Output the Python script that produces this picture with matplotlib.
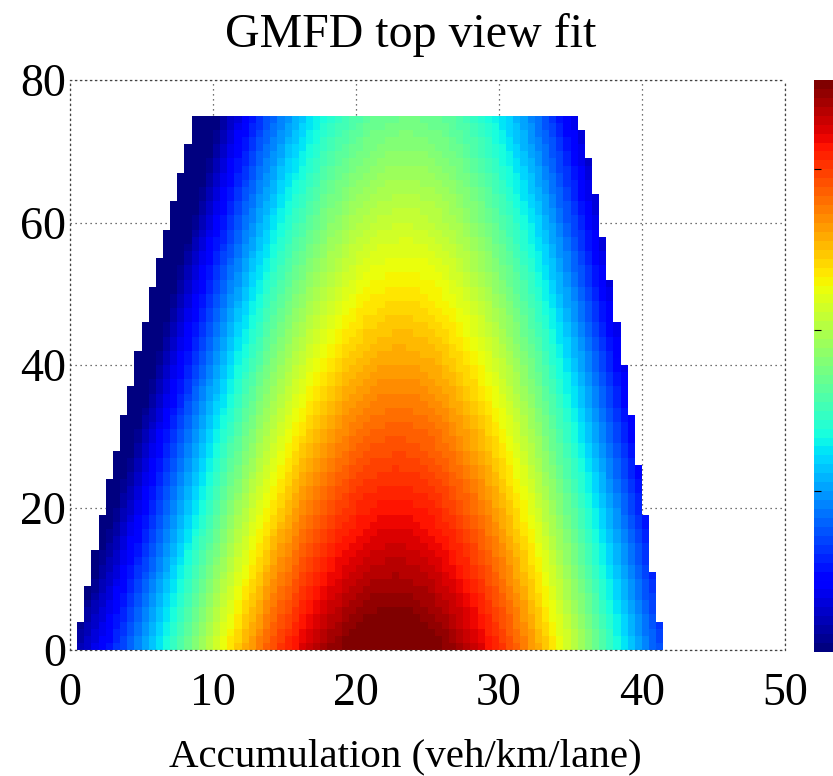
import numpy as np
import matplotlib
matplotlib.use('Agg')
import matplotlib.pyplot as plt

# fitted surface:
# q = A(y) - c2*d^2 + c4*d^4, d = x - x0(y), relative to q_scale (veh/h/lane)
q_scale = 1775.0
peak_at_0 = 1.03      # relative height of the ridge at y=0
peak_slope = 0.0073   # drop of the ridge per unit y
c2 = 0.00314          # curvature across x
c4 = 2.27e-6          # flattening towards the edges
x0_at_0 = 22.5        # ridge position at y=0
x0_slope = 0.014      # ridge drift per unit y

# stepped edges of the fitted region (top y of each step, edge x)
left_y_top = [4, 9, 14, 19, 24, 28, 33, 37, 42, 46, 51, 55, 59, 63, 67, 71, 75]
left_x = [0.5, 1.0, 1.5, 2.0, 2.5, 3.0, 3.5, 4.0, 4.5, 5.0, 5.5, 6.0, 6.5, 7.0, 7.5, 8.0, 8.5]
right_y_top = [4, 11, 19, 26, 33, 40, 46, 52, 58, 64, 69, 73, 75]
right_x = [41.5, 41.0, 40.5, 40.0, 39.5, 39.0, 38.5, 38.0, 37.5, 37.0, 36.5, 36.0, 35.5]

cbar_ticks = [500, 1000, 1500]

xe = np.arange(0, 42.01, 0.5)
ye = np.arange(0, 75.01, 1.0)
xc = (xe[:-1] + xe[1:]) / 2
yc = (ye[:-1] + ye[1:]) / 2
X, Y = np.meshgrid(xc, yc)

A = peak_at_0 - peak_slope * Y
D = X - (x0_at_0 + x0_slope * Y)
Q = (A - c2 * D ** 2 + c4 * D ** 4) * q_scale

xl = np.array(left_x)[np.searchsorted(left_y_top, yc)]
xr = np.array(right_x)[np.searchsorted(right_y_top, yc)]
XL, _ = np.meshgrid(xe[:-1], yc)
XR, _ = np.meshgrid(xe[1:], yc)
mask = (XL < xl[:, None] - 1e-9) | (XR > xr[:, None] + 1e-9)
Q = np.ma.masked_array(Q, mask)

plt.rcParams['font.family'] = ['Liberation Serif', 'DejaVu Serif']

fig = plt.figure(figsize=(8.33, 7.76), dpi=100)
ax = fig.add_axes([70/833, 126/776, 715/833, 570/776])
cmap = plt.get_cmap('jet', 64)
pc = ax.pcolormesh(xe, ye, Q, cmap=cmap, vmin=0, vmax=q_scale, zorder=1)

ax.set_xlim(0, 50)
ax.set_ylim(0, 80)
ax.set_xticks([0, 10, 20, 30, 40, 50])
ax.set_yticks([0, 20, 40, 60, 80])
ax.set_axisbelow(True)
ax.grid(True, linestyle=(0, (1, 3)), color='#444444', linewidth=0.9)
for s in ax.spines.values():
    s.set_linestyle((0, (1, 3)))
    s.set_color('#444444')
    s.set_linewidth(0.9)
ax.tick_params(direction='in', length=0, labelsize=33)
ax.tick_params(axis='x', pad=16)
ax.tick_params(axis='y', pad=3)
ax.set_title('GMFD top view fit', fontsize=34.5, pad=24, x=0.477)
ax.set_xlabel('Accumulation (veh/km/lane)', fontsize=29.5, va='baseline')
ax.xaxis.set_label_coords(0.4685, -0.2035)

cax = fig.add_axes([814/833, 124/776, 0.05, 572/776])
cb = fig.colorbar(pc, cax=cax, ticks=cbar_ticks)
cb.outline.set_visible(False)
cax.tick_params(direction='in', left=True, right=False, length=5,
                labelleft=False, labelright=False)

fig.savefig('out.png', dpi=100)
